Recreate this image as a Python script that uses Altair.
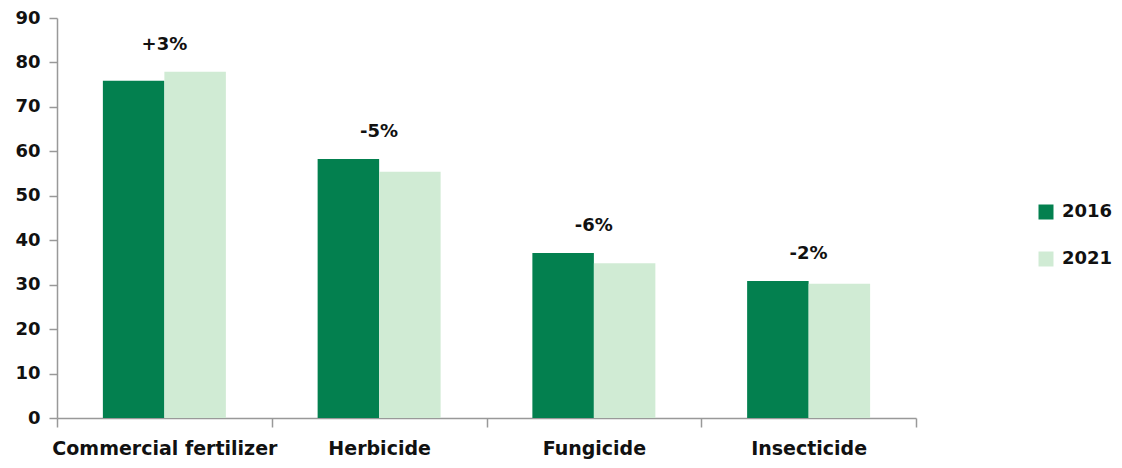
import altair as alt
import pandas as pd

categories = ["Commercial fertilizer", "Herbicide", "Fungicide", "Insecticide"]
years = ["2016", "2021"]
values_2016 = [75.9, 58.3, 37.1, 30.8]
values_2021 = [77.9, 55.4, 34.8, 30.2]
change_labels = ["+3%", "-5%", "-6%", "-2%"]

rows = []
for c, a, b in zip(categories, values_2016, values_2021):
    rows.append({"category": c, "year": "2016", "value": a})
    rows.append({"category": c, "year": "2021", "value": b})
df = pd.DataFrame(rows)

lab = pd.DataFrame({
    "category": categories,
    "label": change_labels,
    "top": [max(a, b) for a, b in zip(values_2016, values_2021)],
})

FONT = "DejaVu Sans"
dark = "#03804F"
light = "#D0EBD4"

x_enc = alt.X(
    "category:N",
    sort=categories,
    title=None,
    scale=alt.Scale(paddingInner=0, paddingOuter=0),
    axis=alt.Axis(
        tickBand="extent",
        labelAngle=0,
        labelLimit=0,
        labelFont=FONT,
        labelFontSize=19,
        labelFontWeight="bold",
        labelColor="#111111",
        labelPadding=12,
        tickSize=9,
        tickColor="#999999",
        tickWidth=1.5,
        domainColor="#999999",
        domainWidth=1.5,
    ),
)

bars = alt.Chart(df).mark_bar().encode(
    x=x_enc,
    xOffset=alt.XOffset(
        "year:N", sort=years,
        scale=alt.Scale(paddingInner=0, paddingOuter=0.746),
    ),
    y=alt.Y(
        "value:Q",
        title=None,
        scale=alt.Scale(domain=[0, 90], nice=False),
        axis=alt.Axis(
            values=list(range(0, 91, 10)),
            grid=False,
            labelFont=FONT,
            labelFontSize=18,
            labelFontWeight="bold",
            labelColor="#111111",
            labelPadding=9,
            tickSize=8,
            tickColor="#999999",
            tickWidth=1.5,
            domainColor="#999999",
            domainWidth=1.5,
        ),
    ),
    color=alt.Color(
        "year:N",
        sort=years,
        scale=alt.Scale(domain=years, range=[dark, light]),
        legend=alt.Legend(
            title=None,
            orient="none",
            legendX=980,
            legendY=185,
            symbolType="square",
            symbolSize=225,
            symbolStrokeWidth=0,
            labelFont=FONT,
            labelFontSize=18,
            labelFontWeight="bold",
            labelColor="#111111",
            labelOffset=7,
            rowPadding=29,
            padding=0,
        ),
    ),
)

text = alt.Chart(lab).mark_text(
    font=FONT, fontSize=18, fontWeight="bold", color="#111111", dy=-27, baseline="middle"
).encode(
    x=alt.X("category:N", sort=categories),
    y=alt.Y("top:Q"),
    text="label:N",
)

chart = alt.layer(bars, text).properties(
    width=859,
    height=400,
    background="white",
    autosize=alt.AutoSizeParams(type="none"),
    padding={"left": 49, "top": 10, "right": 198, "bottom": 42},
).configure_view(stroke=None)

chart.save("out.html", embed_options={"renderer": "svg", "actions": False})
